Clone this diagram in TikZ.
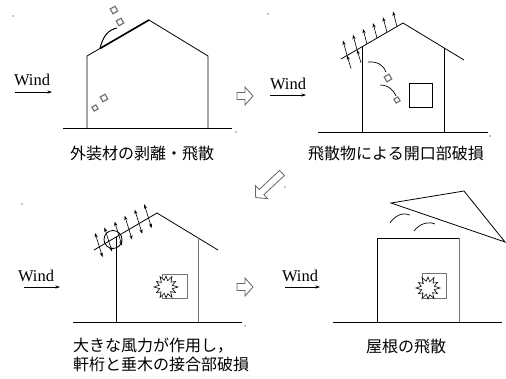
\documentclass[tikz,border=0pt]{standalone}
\usepackage{fontspec}
\setmainfont{Liberation Serif}
\newfontfamily\jpfont{Noto Sans CJK JP}
\usetikzlibrary{arrows.meta,calc}
\begin{document}
\begin{tikzpicture}[x=1pt,y=-1pt,
  wall/.style={line width=0.8pt},
  greywall/.style={line width=0.8pt, draw=black!55},
  windtext/.style={font=\fontsize{16.5}{18}\selectfont, inner sep=0pt},
  windarrow/.style={line width=0.6pt, -{Stealth[length=4.5pt,width=3pt]}},
  caption/.style={font=\jpfont\fontsize{16}{21}\selectfont, inner sep=0pt},
  debris/.style={draw=black!55, line width=1.2pt, minimum size=5.5pt, inner sep=0pt, rotate=30},
  force/.style={line width=0.6pt, -{Stealth[length=4.5pt,width=3.2pt]}},
  dforce/.style={line width=0.6pt, {Stealth[length=4.5pt,width=3.2pt]}-{Stealth[length=4.5pt,width=3.2pt]}},
  hollow/.style={draw=black!60, line width=0.8pt, fill=white, line join=miter},
  speck/.style={circle, fill=black, inner sep=0pt, minimum size=1.2pt},
  pics/hollowarrow/.style={code={
    \draw[hollow] (0,-3.5) -- (#1-8,-3.5) -- (#1-8,-9) -- (#1,0) -- (#1-8,9) -- (#1-8,3.5) -- (0,3.5) -- cycle;}},
  pics/burst/.style={code={
    \draw[line width=0.6pt, fill=white] (0:12) -- (15:6.5) -- (30:11) -- (45:6.5) -- (60:12) -- (75:7)
      -- (90:11) -- (105:6.5) -- (120:12) -- (135:7) -- (150:11) -- (165:6.5) -- (180:12) -- (195:7)
      -- (210:11) -- (225:6.5) -- (240:12) -- (255:7) -- (270:11) -- (285:6.5) -- (300:12) -- (315:7)
      -- (330:11) -- (345:6.5) -- cycle;}},
]
\useasboundingbox (0,0) rectangle (506,378);

% ---------- 1: cladding peeling off ----------
\coordinate (g1a) at (63,128);   \coordinate (g1b) at (232,128);
\coordinate (w1l) at (87,128);   \coordinate (w1lt) at (87,56);
\coordinate (w1r) at (208,128);  \coordinate (w1rt) at (208,56);
\coordinate (r1) at (149,20);
\coordinate (peel) at (100,48.5);
\draw[wall] (g1a) -- (g1b);
\draw[wall] (w1l) -- (w1lt) -- (r1) -- (w1rt) -- (w1r);
\draw[line width=1.6pt] (peel) -- (r1);
\draw[line width=1pt] (peel) .. controls (103,36) and (108,30) .. (117,28);
\node[debris] (d1a) at (114,10) {};
\node[debris] (d1b) at (120,22) {};
\node[debris] (d1c) at (104,98) {};
\node[debris, minimum size=4.5pt] (d1d) at (95,108) {};
\node[windtext] (wind1) at (32,80) {Wind};
\coordinate (wa1) at (15,92); \coordinate (wb1) at (52,92);
\draw[windarrow] (wa1) -- (wb1);
\node[caption] (cap1) at (142,153) {外装材の剥離・飛散};

% ---------- 2: openings broken by debris ----------
\coordinate (g2a) at (318,132);  \coordinate (g2b) at (488,132);
\coordinate (r2l) at (341,59);   \coordinate (r2) at (403,23);  \coordinate (r2r) at (464,60);
\coordinate (w2l) at (362,132);  \coordinate (w2lt) at (362,46.8);
\coordinate (w2r) at (444,132);  \coordinate (w2rt) at (444,47.9);
\draw[wall] (g2a) -- (g2b);
\draw[wall] (r2l) -- (r2) -- (r2r);
\draw[wall] (w2l) -- (w2lt);
\draw[wall] (w2r) -- (w2rt);
\draw[wall] (409,83) rectangle (432,107);
\foreach \t [count=\i] in {0.097,0.258,0.419,0.581,0.742,0.903}{
  \coordinate (p2\i) at ($(r2l)!\t!(r2)$);
  \draw[force] (p2\i) -- ++(-4,-15);
}
\draw[force] ($(p21)+(4,13)$) -- (p21);
\draw[force] ($(p22)+(4,13)$) -- (p22);
\draw[line width=0.7pt] (368,62) .. controls (378,61) and (384,66) .. (386,72);
\draw[line width=0.7pt] (380,85) .. controls (389,85) and (394,91) .. (396,96);
\node[debris] (d2a) at (388,78) {};
\node[debris, minimum size=4.5pt] (d2b) at (397,100) {};
\node[windtext] (wind2) at (288,84) {Wind};
\coordinate (wa2) at (270,95); \coordinate (wb2) at (306,95);
\draw[windarrow] (wa2) -- (wb2);
\node[caption] (cap2) at (396,153) {飛散物による開口部破損};

% ---------- 3: eave beam / rafter joint fails ----------
\coordinate (g3a) at (73,322);   \coordinate (g3b) at (242,322);
\coordinate (r3l) at (94,250);   \coordinate (r3) at (157,213);  \coordinate (r3r) at (218,250);
\coordinate (w3l) at (116,322);  \coordinate (w3lt) at (116,237.1);
\coordinate (w3r) at (198,322);  \coordinate (w3rt) at (198,237.9);
\draw[wall] (g3a) -- (g3b);
\draw[wall] (r3l) -- (r3) -- (r3r);
\draw[wall] (w3l) -- (w3lt);
\draw[greywall] (w3r) -- (w3rt);
\draw[greywall] (162,274) rectangle (187,298);
\pic at (166,287) {burst};
\node[circle, draw, line width=0.8pt, minimum size=18pt, inner sep=0pt] (joint) at (113,239.5) {};
\foreach \t [count=\i] in {0.08,0.23,0.39,0.55,0.71,0.86}{
  \coordinate (p3\i) at ($(r3l)!\t!(r3)$);
  \draw[dforce] ($(p3\i)+(3.5,10)$) -- ($(p3\i)+(-4,-14)$);
}
\node[windtext] (wind3) at (36,276) {Wind};
\coordinate (wa3) at (24,287); \coordinate (wb3) at (60,287);
\draw[windarrow] (wa3) -- (wb3);
\node[caption, anchor=west] (cap3a) at (73,346) {大きな風力が作用し，};
\node[caption, anchor=west] (cap3b) at (73,364) {軒桁と垂木の接合部破損};

% ---------- 4: roof blown away ----------
\coordinate (g4a) at (333,322);  \coordinate (g4b) at (502,322);
\coordinate (w4l) at (377,322);  \coordinate (w4lt) at (377,238);
\coordinate (w4r) at (459,322);  \coordinate (w4rt) at (459,238);
\draw[wall] (g4a) -- (g4b);
\draw[wall] (w4l) -- (w4lt) -- (w4rt);
\draw[greywall] (w4rt) -- (w4r);
\draw[wall] (391,203) -- (464,191) -- (505,242) -- cycle;
\draw[line width=0.7pt] (390,223) .. controls (395,215) and (404,212) .. (410,215);
\draw[line width=0.7pt] (414,231) .. controls (419,224) and (428,221) .. (435,224);
\draw[greywall] (422,273) rectangle (446,298);
\pic at (428,288) {burst};
\node[windtext] (wind4) at (300,276) {Wind};
\coordinate (wa4) at (285,287); \coordinate (wb4) at (320,287);
\draw[windarrow] (wa4) -- (wb4);
\node[caption] (cap4) at (406,346) {屋根の飛散};

% ---------- sequence arrows ----------
\pic at (237,96) {hollowarrow=16};
\pic[rotate=223] at (282,173) {hollowarrow=36};
\pic at (237,287) {hollowarrow=16};

% ---------- specks ----------
\node[speck] (s1) at (13,16) {};
\node[speck] (s2) at (236,132) {};
\node[speck] (s3) at (268,14) {};
\node[speck] (s4) at (490,136) {};
\node[speck] (s5) at (285,187) {};
\node[speck] (s6) at (22,204) {};
\node[speck] (s7) at (245,326) {};
\end{tikzpicture}
\end{document}
